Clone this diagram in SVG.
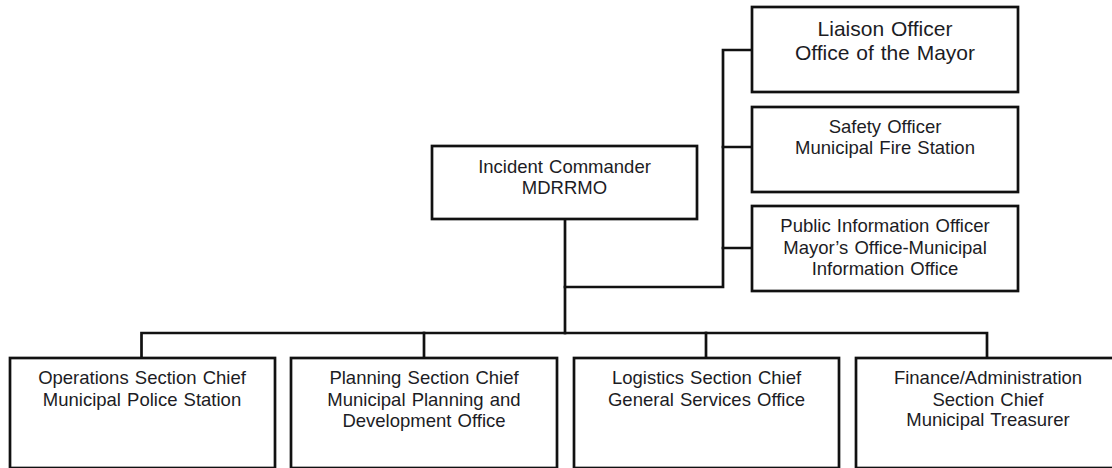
<svg xmlns="http://www.w3.org/2000/svg" width="1112" height="468" viewBox="0 0 1112 468">
<style>
.box{fill:#fff;stroke:#111;stroke-width:2.7}
.ln{fill:none;stroke:#111;stroke-width:2.7;stroke-linejoin:miter;stroke-linecap:square}
text{font-family:"Liberation Sans",Arial,sans-serif;font-size:18.5px;fill:#1c1c24;text-anchor:middle;word-spacing:1px}
.big{font-size:21px}
</style>
<rect width="1112" height="468" fill="#fff"/>
<g id="connectors">
<path class="ln" d="M565 219 V333"/>
<path class="ln" d="M565 287 H723 V50 H752"/>
<path class="ln" d="M723 147 H752"/>
<path class="ln" d="M723 248 H752"/>
<path class="ln" d="M141.5 358 V333 H987 V358"/>
<path class="ln" d="M424 333 V358"/>
<path class="ln" d="M706 333 V358"/>
</g>
<g id="incident-commander">
<rect class="box" x="432" y="146" width="265" height="73"/>
<text x="564.5" y="173">Incident Commander</text>
<text x="564.5" y="194">MDRRMO</text>
</g>
<g id="liaison-officer">
<rect class="box" x="752" y="7" width="266" height="85"/>
<text class="big" x="885" y="36">Liaison Officer</text>
<text class="big" x="885" y="60">Office of the Mayor</text>
</g>
<g id="safety-officer">
<rect class="box" x="752" y="107" width="266" height="85"/>
<text x="885" y="133">Safety Officer</text>
<text x="885" y="154">Municipal Fire Station</text>
</g>
<g id="public-information-officer">
<rect class="box" x="752" y="206" width="266" height="85"/>
<text x="885" y="232">Public Information Officer</text>
<text x="885" y="254">Mayor’s Office-Municipal</text>
<text x="885" y="275">Information Office</text>
</g>
<g id="operations">
<rect class="box" x="10" y="358" width="265" height="110"/>
<text x="142" y="384">Operations Section Chief</text>
<text x="142" y="406">Municipal Police Station</text>
</g>
<g id="planning">
<rect class="box" x="291" y="358" width="266" height="110"/>
<text x="424" y="384">Planning Section Chief</text>
<text x="424" y="406">Municipal Planning and</text>
<text x="424" y="427">Development Office</text>
</g>
<g id="logistics">
<rect class="box" x="574" y="358" width="265" height="110"/>
<text x="706.5" y="384">Logistics Section Chief</text>
<text x="706.5" y="406">General Services Office</text>
</g>
<g id="finance">
<rect class="box" x="856" y="358" width="265" height="110"/>
<text x="988" y="384">Finance/Administration</text>
<text x="988" y="406">Section Chief</text>
<text x="988" y="426">Municipal Treasurer</text>
</g>
</svg>
